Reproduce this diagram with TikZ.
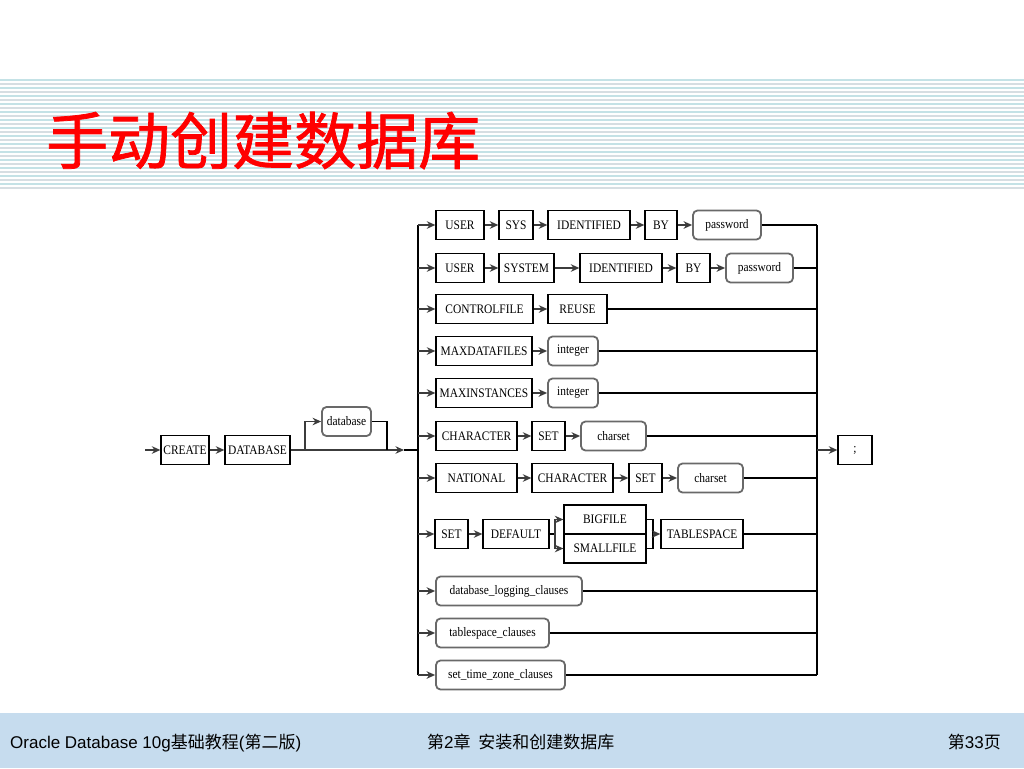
\documentclass[tikz,border=0pt]{standalone}
\usepackage{fontspec}
\setmainfont{Liberation Serif}
\newfontfamily\kwfont[FakeStretch=0.88]{Liberation Serif}
\newfontfamily\cjkfont{Noto Sans CJK SC}
\newfontfamily\titlefont[UprightFeatures={FakeBold=1.2}]{Noto Sans CJK SC}
\newfontfamily\footsans{Liberation Sans}
\usetikzlibrary{arrows.meta}
\definecolor{stripeA}{RGB}{196,226,230}
\definecolor{stripeB}{RGB}{214,222,226}
\definecolor{footbg}{RGB}{198,220,238}
\definecolor{varline}{RGB}{105,105,105}
\definecolor{arrline}{RGB}{60,60,60}
\begin{document}
\begin{tikzpicture}[x=1pt,y=-1pt,
  kwbox/.style={draw=black,line width=1.3pt,inner sep=0pt,minimum height=29,font=\kwfont\fontsize{13}{15}\selectfont},
  vbox/.style={draw=varline,line width=1.8pt,rounded corners=4.5pt,inner sep=0pt,minimum height=29,font=\kwfont\fontsize{13}{15}\selectfont},
  ln/.style={draw=black,line width=1.3pt},
  arr/.style={draw=arrline,line width=1.6pt,-{Stealth[length=8.5pt,width=7.5pt]}},
  foot/.style={anchor=base west,inner sep=0pt,font=\footsans\fontsize{17}{20}\selectfont}
  ]
\useasboundingbox (0,0) rectangle (1024,768);
\fill[white] (0,0) rectangle (1024,768);
% header stripes
\foreach \yy in {80,88,...,184} \draw[stripeA,line width=1.3pt] (0,\yy) -- (1024,\yy);
\foreach \yy in {84,92,...,188} \draw[stripeB,line width=1.3pt] (0,\yy) -- (1024,\yy);
% title
\node[anchor=base west,inner sep=0pt,text=red,font=\titlefont\fontsize{62}{62}\selectfont] (title) at (46,164) {手动创建数据库};
% footer
\fill[footbg] (0,713) rectangle (1024,768);
\node[foot] (f1) at (10,748) {Oracle Database 10g{\cjkfont 基础教程}({\cjkfont 第二版})};
\node[foot] (f2) at (427,748) {{\cjkfont 第}2{\cjkfont 章\ \ 安装和创建数据库}};
\node[foot,anchor=base east] (f3) at (1001,748) {{\cjkfont 第}33{\cjkfont 页}};

% ---- main line
\coordinate (S) at (145,450);
\node[kwbox,minimum width=48] (create) at (185,450) {CREATE};
\node[kwbox,minimum width=65] (dbkw) at (257.5,450) {DATABASE};
\node[vbox,minimum width=49] (dbname) at (346.5,421.5) {database};
\coordinate (B1) at (305,450);
\coordinate (B2) at (387,450);
\coordinate (M) at (404,450);
\coordinate (Lm) at (418,450);
\draw[arr] (S) -- (create);
\draw[arr] (create) -- (dbkw);
\draw[arr] (dbkw) -- (M);
\draw[ln] (M) -- (Lm);
\draw[arr] (B1) |- (dbname);
\draw[ln] (dbname) -| (B2);

% bus coordinates
\foreach \n/\yy in {1/225,2/268,3/309,4/351,5/393,6/436,7/478,8/534,9/591,10/633,11/675}{
  \coordinate (L\n) at (418,\yy);
  \coordinate (R\n) at (817,\yy);
}
\draw[ln] (L1) -- (L11);
\draw[ln] (R1) -- (R11);
\coordinate (Rm) at (817,450);
\node[kwbox,minimum width=34] (semi) at (855,450) {;};
\draw[arr] (Rm) -- (semi);

% row 1
\node[kwbox,minimum width=48] (ua) at (460,225) {USER};
\node[kwbox,minimum width=34] (sys) at (516,225) {SYS};
\node[kwbox,minimum width=82] (ida) at (589,225) {IDENTIFIED};
\node[kwbox,minimum width=32] (bya) at (661,225) {BY};
\node[vbox,minimum width=68] (pwa) at (727,225) {password};
\draw[arr] (L1) -- (ua);
\draw[arr] (ua) -- (sys);
\draw[arr] (sys) -- (ida);
\draw[arr] (ida) -- (bya);
\draw[arr] (bya) -- (pwa);
\draw[ln] (pwa) -- (R1);

% row 2
\node[kwbox,minimum width=48] (ub) at (460,268) {USER};
\node[kwbox,minimum width=55] (system) at (526.5,268) {SYSTEM};
\node[kwbox,minimum width=82] (idb) at (621,268) {IDENTIFIED};
\node[kwbox,minimum width=33] (byb) at (693.5,268) {BY};
\node[vbox,minimum width=67] (pwb) at (759.5,268) {password};
\draw[arr] (L2) -- (ub);
\draw[arr] (ub) -- (system);
\draw[arr] (system) -- (idb);
\draw[arr] (idb) -- (byb);
\draw[arr] (byb) -- (pwb);
\draw[ln] (pwb) -- (R2);

% row 3
\node[kwbox,minimum width=97] (ctl) at (484.5,309) {CONTROLFILE};
\node[kwbox,minimum width=59] (reuse) at (577.5,309) {REUSE};
\draw[arr] (L3) -- (ctl);
\draw[arr] (ctl) -- (reuse);
\draw[ln] (reuse) -- (R3);

% row 4
\node[kwbox,minimum width=96] (mdf) at (484,351) {MAXDATAFILES};
\node[vbox,minimum width=50] (inta) at (573,351) {integer};
\draw[arr] (L4) -- (mdf);
\draw[arr] (mdf) -- (inta);
\draw[ln] (inta) -- (R4);

% row 5
\node[kwbox,minimum width=96] (mis) at (484,393) {MAXINSTANCES};
\node[vbox,minimum width=50] (intb) at (573,393) {integer};
\draw[arr] (L5) -- (mis);
\draw[arr] (mis) -- (intb);
\draw[ln] (intb) -- (R5);

% row 6
\node[kwbox,minimum width=81] (cha) at (476.5,436) {CHARACTER};
\node[kwbox,minimum width=33] (seta) at (548.5,436) {SET};
\node[vbox,minimum width=65] (csa) at (613.5,436) {charset};
\draw[arr] (L6) -- (cha);
\draw[arr] (cha) -- (seta);
\draw[arr] (seta) -- (csa);
\draw[ln] (csa) -- (R6);

% row 7
\node[kwbox,minimum width=81] (nat) at (476.5,478) {NATIONAL};
\node[kwbox,minimum width=81] (chb) at (572.5,478) {CHARACTER};
\node[kwbox,minimum width=33] (setb) at (645.5,478) {SET};
\node[vbox,minimum width=65] (csb) at (710.5,478) {charset};
\draw[arr] (L7) -- (nat);
\draw[arr] (nat) -- (chb);
\draw[arr] (chb) -- (setb);
\draw[arr] (setb) -- (csb);
\draw[ln] (csb) -- (R7);

% row 8
\node[kwbox,minimum width=33] (setc) at (451.5,534) {SET};
\node[kwbox,minimum width=66] (dflt) at (516,534) {DEFAULT};
\node[kwbox,minimum width=82] (big) at (605,519.5) {BIGFILE};
\node[kwbox,minimum width=82] (small) at (605,548.5) {SMALLFILE};
\node[kwbox,minimum width=82] (tbs) at (702,534) {TABLESPACE};
\coordinate (J1) at (555,534);
\coordinate (J2) at (653,534);
\draw[arr] (L8) -- (setc);
\draw[arr] (setc) -- (dflt);
\draw[ln] (dflt) -- (J1);
\draw[arr] (J1) |- (big);
\draw[arr] (J1) |- (small);
\draw[ln] (big) -| (J2);
\draw[ln] (small) -| (J2);
\draw[arr] (J2) -- (tbs);
\draw[ln] (tbs) -- (R8);

% row 9
\node[vbox,minimum width=146] (dlc) at (509,591) {database\_logging\_clauses};
\draw[arr] (L9) -- (dlc);
\draw[ln] (dlc) -- (R9);

% row 10
\node[vbox,minimum width=113] (tsc) at (492.5,633) {tablespace\_clauses};
\draw[arr] (L10) -- (tsc);
\draw[ln] (tsc) -- (R10);

% row 11
\node[vbox,minimum width=129] (stz) at (500.5,675) {set\_time\_zone\_clauses};
\draw[arr] (L11) -- (stz);
\draw[ln] (stz) -- (R11);
\end{tikzpicture}
\end{document}
